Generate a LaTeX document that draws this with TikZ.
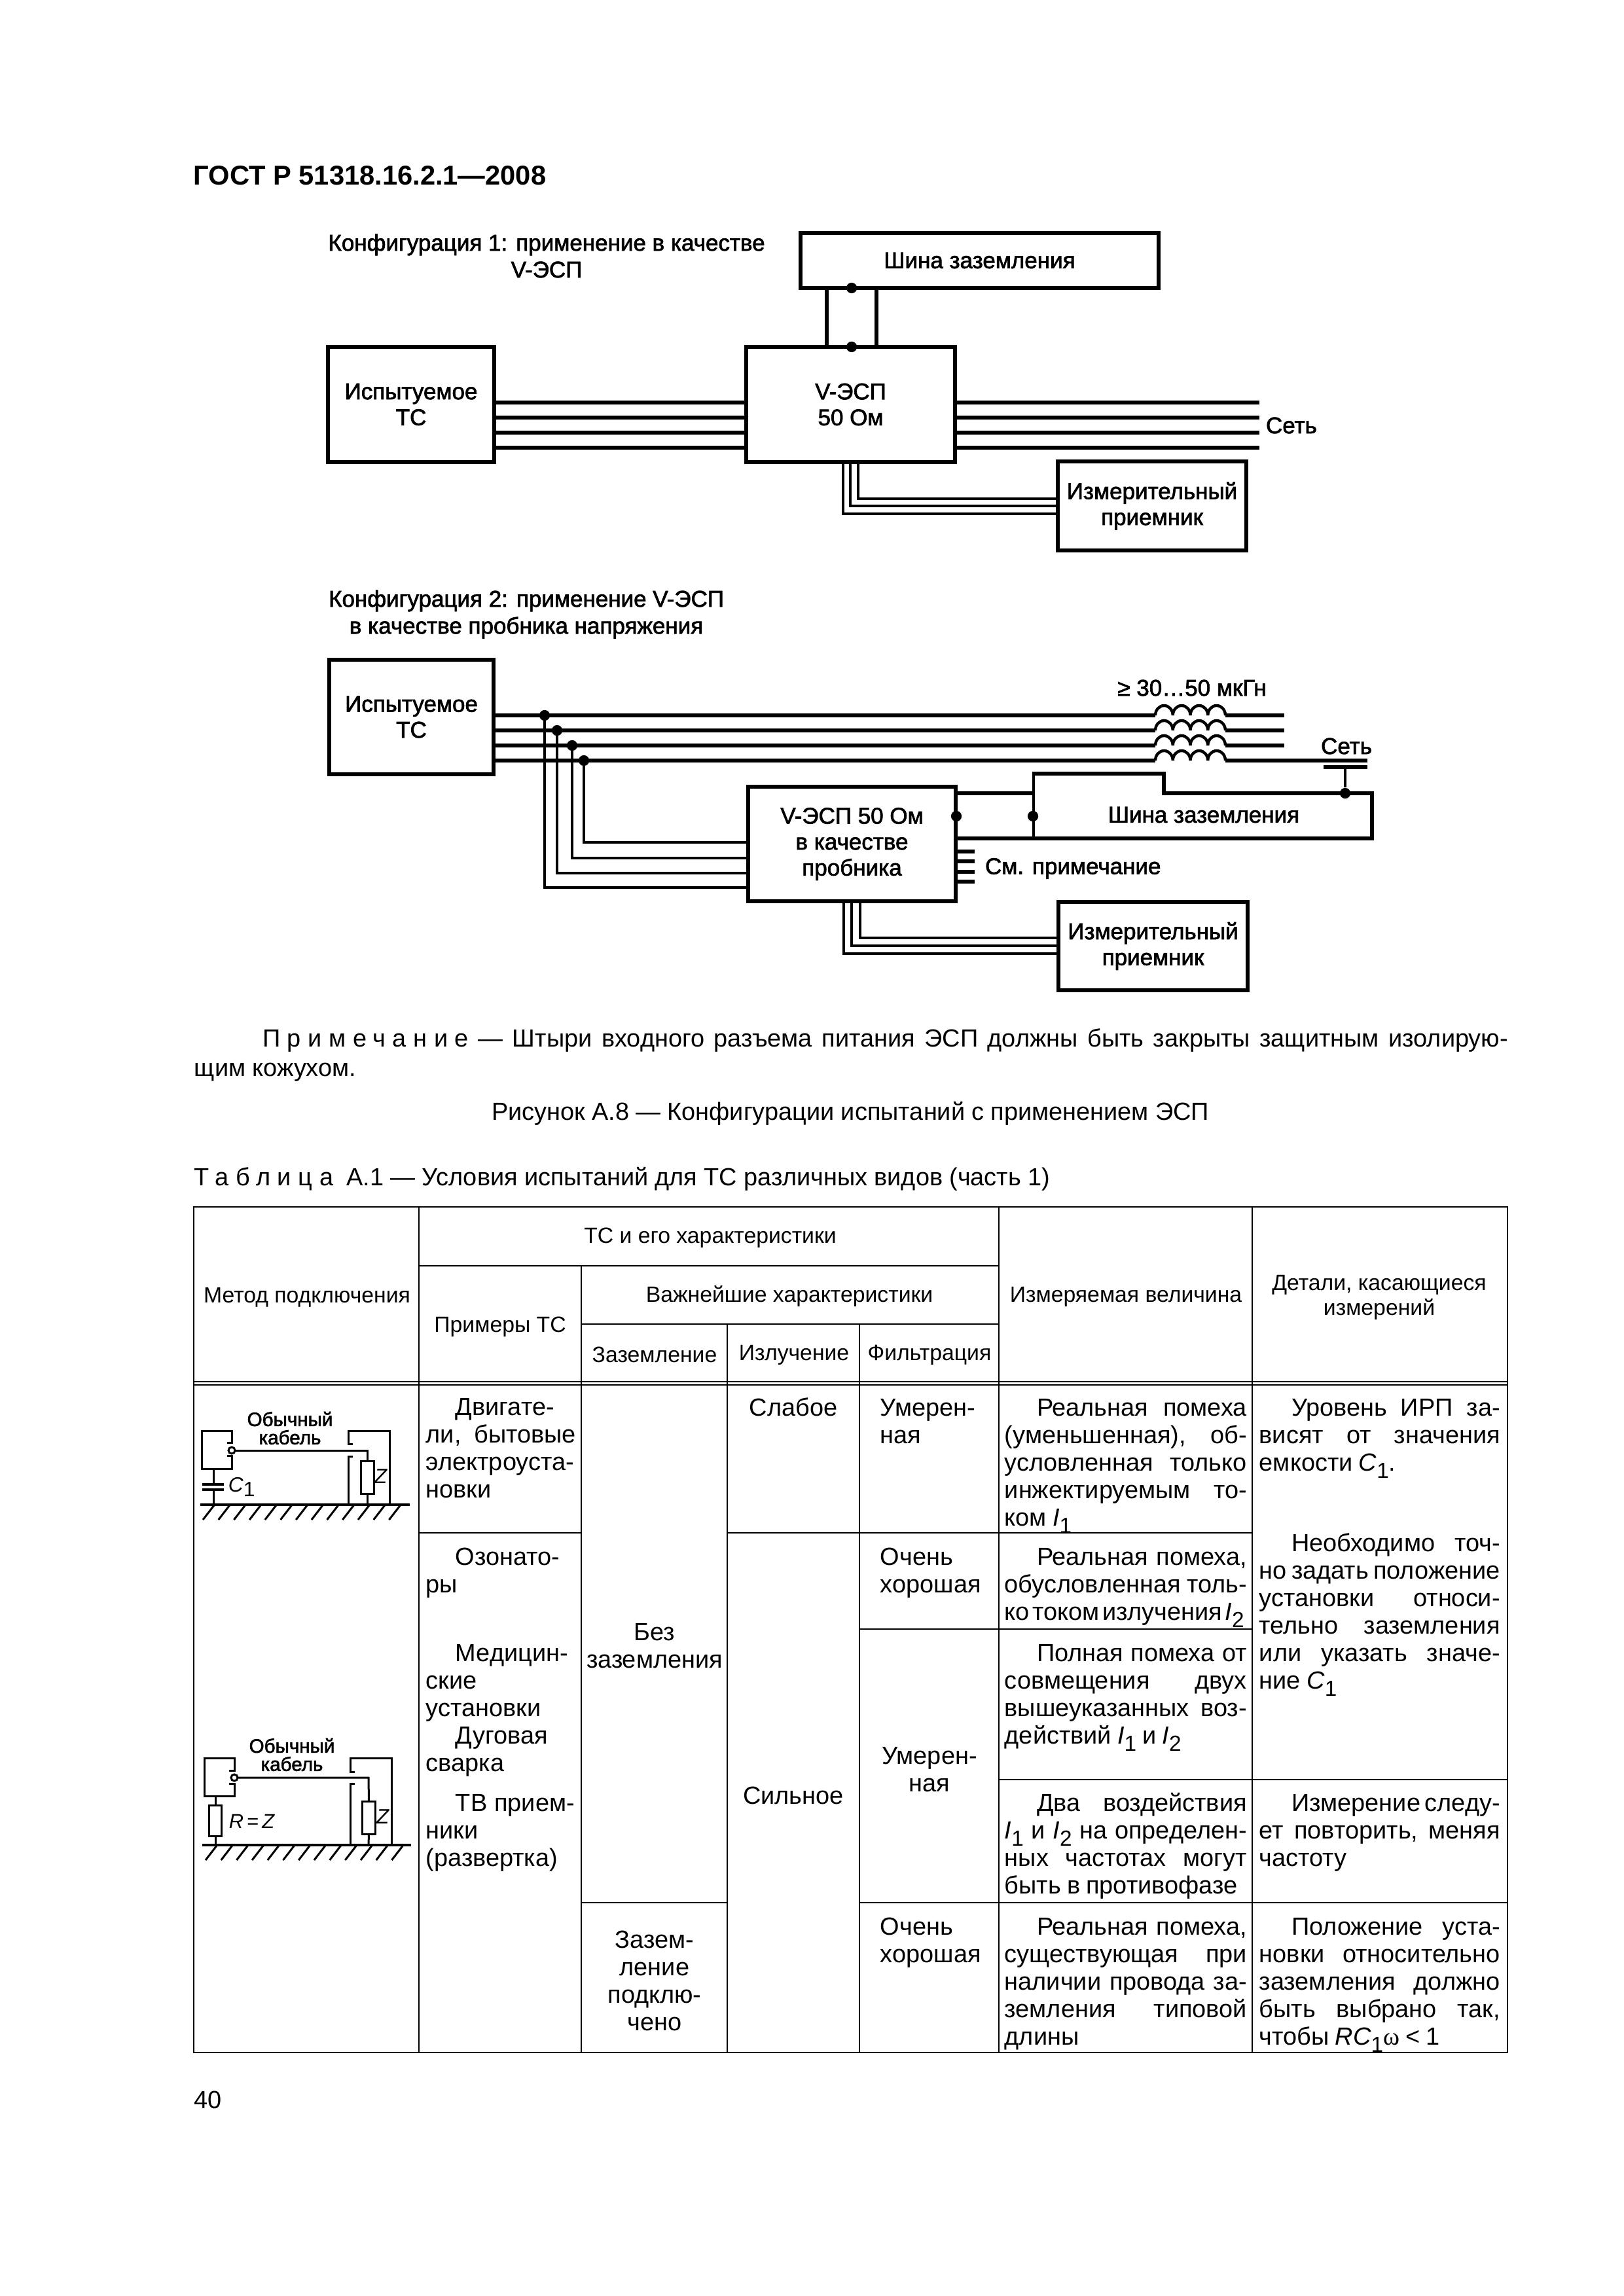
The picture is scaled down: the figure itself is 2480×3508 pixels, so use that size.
\documentclass[tikz,border=0pt]{standalone}
\usepackage{fontspec}
\setmainfont{Liberation Sans}
\newfontfamily\dfam[FakeBold=2]{Liberation Sans}
\newfontfamily\wfam{Liberation Serif}
\newcommand{\dfs}{\dfam\fontsize{8.4}{9.5}\selectfont}
\newcommand{\mfs}{\dfam\fontsize{7.1}{7.1}\selectfont}
\newcommand{\tfs}{\fontsize{9.1}{10.06}\selectfont\frenchspacing\spaceskip=0.24em plus 3em minus 0.12em\relax}
\newcommand{\hfs}{\fontsize{8.1}{9.1}\selectfont}
\newcommand{\bfs}{\fontsize{9.1}{10.6}\selectfont\frenchspacing\spaceskip=0.27em plus 2em minus 0.1em\relax}
\newcommand{\ind}{\hspace*{11.8pt}}
\newcommand{\inda}{\hspace*{10.8pt}}
\newcommand{\stt}{\rule{0pt}{8pt}}
\newcommand{\sbn}[1]{\raisebox{-2.6pt}{\fontsize{8}{8}\selectfont #1}}
\newcommand{\spc}[1]{{\addfontfeature{LetterSpace=28}#1}}
\tikzset{
 blk/.style={draw,line width=1.44pt,inner sep=0pt,outer sep=0pt,align=center,font=\dfs},
 dlabel/.style={inner sep=0pt,outer sep=0pt,align=center,font=\dfs},
 wire/.style={line width=1.3pt},
 fine/.style={line width=1pt},
 mini/.style={line width=0.72pt},
 gnd/.style={line width=1pt},
 dot/.style={circle,fill=black,inner sep=0pt,minimum size=3.9pt},
 rule/.style={line width=0.55pt},
 hrule/.style={line width=0.7pt},
 cellj/.style={anchor=north west,inner sep=0pt,align=justify,font=\tfs},
 cellc/.style={anchor=north,inner sep=0pt,align=center,font=\tfs},
 head/.style={inner sep=0pt,align=center,font=\hfs},
 body/.style={inner sep=0pt,anchor=base west,font=\bfs},
 res/.style={draw,line width=0.72pt,inner sep=0pt,outer sep=0pt},
 mlabel/.style={inner sep=0pt,align=center,font=\mfs},
}
\newcommand{\bxn}[6]{\node[blk,minimum width={(#4-#2)*0.24pt},minimum height={(#5-#3)*0.24pt}] (#1) at ({(#2+#4)/2},{(#3+#5)/2}) {#6};}
\newcommand{\cj}[5]{\node[cellj,text width=#4pt] (#1) at (#2,#3-33.33) {\stt #5};}
\newcommand{\cc}[5]{\node[cellc,text width=#4pt] (#1) at (#2,#3-33.33) {\stt #5};}
\begin{document}
\begin{tikzpicture}[x=0.24pt,y=-0.24pt]
\useasboundingbox (0,0) rectangle (2480,3508);
% page texts
\node[body,font=\bfseries\fontsize{10}{11}\selectfont] (hdr) at (295,283) {ГОСТ Р 51318.16.2.1—2008};
% ---------- configuration 1
\node[dlabel] (c1a) at (835,374) {Конфигурация 1: применение в качестве};
\node[dlabel] (c1b) at (835,412) {V-ЭСП};
\bxn{bus1}{1223}{356}{1770}{440}{Шина заземления}
\bxn{t1}{501}{530}{755}{706}{Испытуемое\\ТС}
\bxn{v1}{1140}{530}{1459}{706}{V-ЭСП\\50 Ом}
\bxn{m1}{1616}{705}{1904}{841}{Измерительный\\приемник}
\node[dot] (d1) at (1301,440) {};
\node[dot] (d2) at (1301,530) {};
\draw[wire] (bus1.south -| 1263,0) -- (v1.north -| 1263,0);
\draw[wire] (bus1.south -| 1339,0) -- (v1.north -| 1339,0);
\foreach \yy in {615,638,661,684}{
 \draw[wire] (t1.east |- 0,\yy) -- (v1.west |- 0,\yy);
 \coordinate (e\yy) at (1924,\yy);
 \draw[wire] (v1.east |- 0,\yy) -- (e\yy);
}
\node[dlabel,anchor=west] (set1) at (1934,650) {Сеть};
\draw[fine] (v1.south -| 1311,0) |- (m1.west |- 0,762);
\draw[fine] (v1.south -| 1299,0) |- (m1.west |- 0,773);
\draw[fine] (v1.south -| 1288,0) |- (m1.west |- 0,785);
% ---------- configuration 2
\node[dlabel] (c2a) at (804,918) {Конфигурация 2: применение V-ЭСП};
\node[dlabel] (c2b) at (804,959) {в качестве пробника напряжения};
\bxn{t2}{503}{1008}{754}{1183}{Испытуемое\\ТС}
\bxn{v2}{1143}{1202}{1460}{1377}{V-ЭСП 50 Ом\\в качестве\\пробника}
\bxn{m2}{1617}{1378}{1906}{1513}{Измерительный\\приемник}
\coordinate (ce1) at (1765,1093);\coordinate (ce2) at (1765,1116);\coordinate (ce3) at (1765,1139);\coordinate (ce4) at (1765,1162);
\coordinate (cf1) at (1872,1093);\coordinate (cf2) at (1872,1116);\coordinate (cf3) at (1872,1139);\coordinate (cf4) at (1872,1162);
\coordinate (g1) at (1962,1093);\coordinate (g2) at (1962,1116);\coordinate (g3) at (1962,1139);\coordinate (g4) at (2089,1162);
\foreach \i/\yy in {1/1093,2/1116,3/1139,4/1162}{
 \draw[wire] (t2.east |- 0,\yy) -- (ce\i);
 \draw[wire] (cf\i) -- (g\i);
 \draw[line width=1.05pt] (ce\i) arc[start angle=180,end angle=0,x radius=3.21pt,y radius=3.6pt]
   arc[start angle=180,end angle=0,x radius=3.21pt,y radius=3.6pt]
   arc[start angle=180,end angle=0,x radius=3.21pt,y radius=3.6pt]
   arc[start angle=180,end angle=0,x radius=3.21pt,y radius=3.6pt];
}
\node[dot] (j1) at (832,1093) {};
\node[dot] (j2) at (851,1116) {};
\node[dot] (j3) at (874,1139) {};
\node[dot] (j4) at (892,1162) {};
\draw[fine] (j1.center) |- (v2.west |- 0,1356);
\draw[fine] (j2.center) |- (v2.west |- 0,1334);
\draw[fine] (j3.center) |- (v2.west |- 0,1311);
\draw[fine] (j4.center) |- (v2.west |- 0,1287);
\node[dlabel] (ind) at (1821,1051) {≥ 30…50 мкГн};
\node[dlabel] (set2) at (2057,1140) {Сеть};
\coordinate (cp1) at (2022,1172);\coordinate (cp2) at (2089,1172);
\draw[line width=1.44pt] (cp1) -- (cp2);
\node[dot] (j5) at (2055,1212) {};
\draw[fine] (2055,1172) -- (j5);
\coordinate (b1) at (1579,1182);\coordinate (b2) at (1778,1182);\coordinate (b3) at (1778,1212);\coordinate (b4) at (2096,1212);\coordinate (b5) at (2096,1281);
\draw[line width=1.44pt,line join=miter] (b1) -- (b2) -- (b3) -- (b4) -- (b5) -- (v2.east |- b5);
\draw[line width=1.44pt] (v2.east |- b3) -- (1579,1212);
\draw[line width=0.85pt] (1579,1179) -- (1579,1281);
\node[dot] (j6) at (1461,1247) {};
\node[dot] (j7) at (1578,1247) {};
\node[dlabel] (bus2) at (1839,1245) {Шина заземления};
\foreach \yy in {1301,1316,1332,1347}{\draw[wire] (v2.east |- 0,\yy) -- (1489,\yy);}
\node[dlabel,anchor=west] (see) at (1505,1327) {См. примечание};
\draw[fine] (v2.south -| 1314,0) |- (m2.west |- 0,1433);
\draw[fine] (v2.south -| 1301,0) |- (m2.west |- 0,1445);
\draw[fine] (v2.south -| 1289,0) |- (m2.west |- 0,1457);
% ---------- note and captions
\node[body,text width=481.7pt,anchor=north west,align=justify] (note) at (296,1599-32) {\rule{0pt}{7.7pt}\hspace*{25pt}\spc{Примечание} — Штыри входного разъема питания ЭСП должны быть закрыты защитным изолирую-\linebreak щим кожухом.};
\node[body,anchor=base] (cap) at (1299,1711) {Рисунок А.8 — Конфигурации испытаний с применением ЭСП};
\node[body] (tcap) at (296,1811) {\spc{Таблица}\ \ А.1 — Условия испытаний для ТС различных видов (часть 1)};
\node[body] (pg) at (296,3221) {40};
% ---------- table rules
\draw[hrule] (295,1844) -- (2304,1844);
\draw[hrule] (640,1934) -- (1526,1934);
\draw[hrule] (888,2023) -- (1526,2023);
\draw[hrule] (295,2111) -- (2304,2111);
\draw[hrule] (295,2116) -- (2304,2116);
\draw[hrule] (295,3136) -- (2304,3136);
\draw[rule] (296,1844) -- (296,3136);
\draw[rule] (640,1844) -- (640,3136);
\draw[rule] (888,1934) -- (888,3136);
\draw[rule] (1111,2023) -- (1111,3136);
\draw[rule] (1313,2023) -- (1313,3136);
\draw[rule] (1526,1844) -- (1526,3136);
\draw[rule] (1913,1844) -- (1913,3136);
\draw[rule] (2303,1844) -- (2303,3136);
\draw[rule] (640,2342) -- (888,2342);
\draw[rule] (1111,2342) -- (1913,2342);
\draw[rule] (1313,2489) -- (1913,2489);
\draw[rule] (1526,2719) -- (2303,2719);
\draw[rule] (888,2907) -- (1111,2907);
\draw[rule] (1313,2907) -- (2303,2907);
% ---------- table head
\node[head] (h1) at (1085,1891) {ТС и его характеристики};
\node[head] (h2) at (469,1982) {Метод подключения};
\node[head] (h3) at (764,2027) {Примеры ТС};
\node[head] (h4) at (1206,1980) {Важнейшие характеристики};
\node[head] (h5) at (1000,2070) {Заземление};
\node[head] (h6) at (1213,2070) {Излучение};
\node[head] (h7) at (1420,2070) {Фильтрация};
\node[head] (h8) at (1720,1981) {Измеряемая величина};
\node[head] (h9) at (2107,1982) {Детали, касающиеся\\измерений};
% ---------- table cells
\cj{a1}{650}{2162}{55}{\inda Двигате-\linebreak ли, бытовые\linebreak электроуста-\linebreak новки}
\cj{a2}{650}{2391}{54.5}{\inda Озонато-\linebreak ры}
\cj{a3}{650}{2538}{54.5}{\inda Медицин-\linebreak ские\linebreak установки}
\cj{a4}{650}{2664}{54.5}{\inda Дуговая\linebreak сварка}
\cj{a5}{650}{2767}{54.5}{\inda ТВ прием-\linebreak ники\linebreak (развертка)}
\cc{g1c}{1000}{2506}{53.5}{Без\\заземления}
\cc{g2c}{1000}{2976}{53.5}{Зазем-\\ление\\подклю-\\чено}
\cc{e1c}{1212}{2163}{48.5}{Слабое}
\cc{e2c}{1212}{2756}{48.5}{Сильное}
\cj{f1}{1344}{2163}{42}{Умерен-\\ная}
\cj{f2}{1344}{2391}{42}{Очень\\хорошая}
\cc{f3}{1420}{2695}{51}{Умерен-\\ная}
\cj{f4}{1344}{2956}{42}{Очень\\хорошая}
\cj{q1}{1534}{2163}{88.8}{\ind Реальная помеха\linebreak (уменьшенная), об-\linebreak условленная только\linebreak инжектируемым то-\linebreak ком \textit{I}\sbn{1}}
\cj{q2}{1534}{2391}{88.8}{\ind Реальная помеха,\linebreak обусловленная толь-\linebreak {\spaceskip=0.12em\relax ко током излучения \textit{I}\sbn{2}}}
\cj{q3}{1534}{2538}{88.8}{\ind Полная помеха от\linebreak совмещения двух\linebreak вышеуказанных воз-\linebreak действий \textit{I}\sbn{1} и \textit{I}\sbn{2}}
\cj{q4}{1534}{2767}{88.8}{\ind Два воздействия\linebreak \textit{I}\sbn{1} и \textit{I}\sbn{2} на определен-\linebreak ных частотах могут\linebreak быть в противофазе}
\cj{q5}{1534}{2956}{88.8}{\ind Реальная помеха,\linebreak существующая при\linebreak наличии провода за-\linebreak земления типовой\linebreak длины}
\cj{r1}{1923}{2163}{88.3}{\ind Уровень ИРП за-\linebreak висят от значения\linebreak емкости \textit{C}\sbn{1}.}
\cj{r2}{1923}{2370}{88.3}{\ind Необходимо точ-\linebreak но задать положение\linebreak установки относи-\linebreak тельно заземления\linebreak или указать значе-\linebreak ние \textit{C}\sbn{1}}
\cj{r3}{1923}{2767}{88.3}{\ind Измерение следу-\linebreak ет повторить, меняя\linebreak частоту}
\cj{r4}{1923}{2956}{88.3}{\ind Положение уста-\linebreak новки относительно\linebreak заземления должно\linebreak быть выбрано так,\linebreak чтобы \textit{RC}\sbn{1}{\wfam ω} < 1}
% ---------- mini diagram 1
\node[mlabel] (ma1) at (443,2168) {Обычный};
\node[mlabel] (ma2) at (443,2196) {кабель};
\draw[mini] (347,2204) -- (354,2204) -- (354,2186) -- (308,2186) -- (308,2244) -- (354,2244) -- (354,2224) -- (347,2224);
\draw[mini] (326,2244) -- (326,2268);
\draw[mini] (326,2276) -- (326,2299);
\draw[line width=0.9pt] (309,2268) -- (342,2268);
\draw[line width=0.9pt] (309,2276) -- (342,2276);
\draw[gnd] (306,2299) -- (626,2299);
\foreach \i in {0,...,12}{\draw[mini] ({310+23.7*\i},2322) -- ({327+23.7*\i},2300);}
\node[res,minimum width=4.8pt,minimum height=11.8pt] (rz1) at (561,2257.5) {};
\coordinate (o1) at (354,2216);
\draw[mini] (o1) -- (561,2216) -- (rz1.north);
\draw[mini] (rz1.south) -- (561,2299);
\draw[mini,fill=white] (o1) circle[radius=1.2pt];
\draw[mini] (539,2206) -- (532,2206) -- (532,2186) -- (595,2186) -- (595,2299);
\draw[mini] (539,2225) -- (532,2225) -- (532,2299);
\node[inner sep=0pt,font=\fontsize{7.6}{7.6}\selectfont] (zz1) at (582,2256) {\textit{Z}};
\node[inner sep=0pt,anchor=west,font=\fontsize{7.6}{7.6}\selectfont] (cc1) at (348,2272) {\textit{C}\raisebox{-1.7pt}{1}};
% ---------- mini diagram 2
\node[mlabel] (mb1) at (446,2667) {Обычный};
\node[mlabel] (mb2) at (446,2695) {кабель};
\draw[mini] (350,2705) -- (358,2705) -- (358,2686) -- (312,2686) -- (312,2744) -- (358,2744) -- (358,2725) -- (350,2725);
\node[res,minimum width=4.6pt,minimum height=11.5pt] (rr2) at (329,2782) {};
\draw[mini] (329,2744) -- (rr2.north);
\draw[mini] (rr2.south) -- (329,2819);
\draw[gnd] (309,2819) -- (628,2819);
\foreach \i in {0,...,12}{\draw[mini] ({314+23.7*\i},2842) -- ({331+23.7*\i},2820);}
\node[res,minimum width=4.9pt,minimum height=11.8pt] (rz2) at (563.5,2777.5) {};
\coordinate (o2) at (358,2716);
\draw[mini] (o2) -- (563,2716) -- (rz2.north);
\draw[mini] (rz2.south) -- (563,2819);
\draw[mini,fill=white] (o2) circle[radius=1.2pt];
\draw[mini] (542,2707) -- (535,2707) -- (535,2686) -- (598,2686) -- (598,2819);
\draw[mini] (542,2725) -- (535,2725) -- (535,2819);
\node[inner sep=0pt,font=\fontsize{7.6}{7.6}\selectfont] (zz2) at (585,2776) {\textit{Z}};
\node[inner sep=0pt,font=\fontsize{7.4}{7.4}\selectfont] (rz) at (385,2783) {\textit{R}\,=\,\textit{Z}};
\end{tikzpicture}
\end{document}
